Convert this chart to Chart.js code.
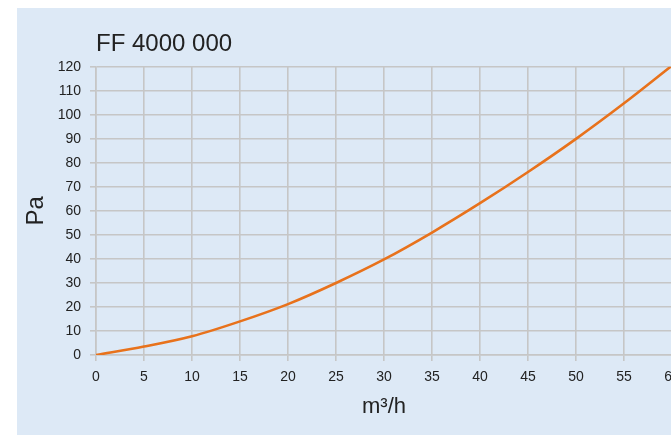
<!DOCTYPE html>
<html>
<head>
<meta charset="utf-8">
<script src="https://cdn.jsdelivr.net/npm/chart.js@4.4.0/dist/chart.umd.min.js"></script>
<style>
  html, body { margin: 0; padding: 0; background: #ffffff; overflow: hidden; width: 671px; height: 439px; }
  #wrap { position: absolute; left: 17px; top: 8px; width: 700px; height: 427px; background: #dde9f6; }
</style>
</head>
<body>
<div id="wrap"><canvas id="chartFF"></canvas></div>
<script>
// Curva de pérdida de carga FF 4000 000
const caudal = [0, 5, 10, 15, 20, 25, 30, 35, 40, 45, 50, 55, 60];
const presion = [0, 3.5, 7.8, 14, 21.2, 30, 39.8, 51, 63.2, 76.2, 90, 104.8, 120.5];
const tituloGrafico = 'FF 4000 000';
const tituloX = 'm³/h';
const tituloY = 'Pa';

const fontBase = "'Liberation Sans', Arial, sans-serif";
const gris = '#c6c6c6';

document.addEventListener('DOMContentLoaded', function() {
    const ctx = document.getElementById('chartFF').getContext('2d');

    new Chart(ctx, {
        type: 'line',
        data: {
            datasets: [{
                data: caudal.map((q, i) => ({ x: q, y: presion[i] })),
                borderColor: '#e8721c',
                borderWidth: 2.6,
                pointRadius: 0,
                cubicInterpolationMode: 'monotone',
                fill: false
            }]
        },
        options: {
            responsive: true,
            maintainAspectRatio: false,
            animation: false,
            layout: { padding: { left: 0, right: 45, top: 0, bottom: 0 } },
            scales: {
                x: {
                    type: 'linear',
                    min: 0,
                    max: 60,
                    ticks: { stepSize: 5, padding: 8, color: '#222', font: { family: fontBase, size: 14 } },
                    grid: { color: gris, lineWidth: 1.6, tickLength: 6 },
                    border: { color: gris, width: 1.6 },
                    title: {
                        display: true,
                        text: tituloX,
                        color: '#222',
                        font: { family: fontBase, size: 22 },
                        padding: { top: 0, bottom: 15 }
                    },
                    afterFit: function(scale) { scale.height = 80; }
                },
                y: {
                    min: 0,
                    max: 120,
                    ticks: { stepSize: 10, padding: 9, color: '#222', font: { family: fontBase, size: 14 } },
                    grid: { color: gris, lineWidth: 1.6, tickLength: 6 },
                    border: { color: gris, width: 1.6 },
                    title: {
                        display: true,
                        text: tituloY,
                        color: '#222',
                        font: { family: fontBase, size: 24 },
                        padding: { top: 5, bottom: 0 }
                    },
                    afterFit: function(scale) { scale.width = 79; }
                }
            },
            plugins: {
                legend: { display: false },
                tooltip: { enabled: false },
                title: {
                    display: true,
                    text: tituloGrafico,
                    align: 'start',
                    fullSize: false,
                    color: '#222',
                    font: { family: fontBase, size: 24, weight: 'normal' },
                    padding: { top: 22, bottom: 8 }
                }
            }
        }
    });
});
</script>
</body>
</html>
